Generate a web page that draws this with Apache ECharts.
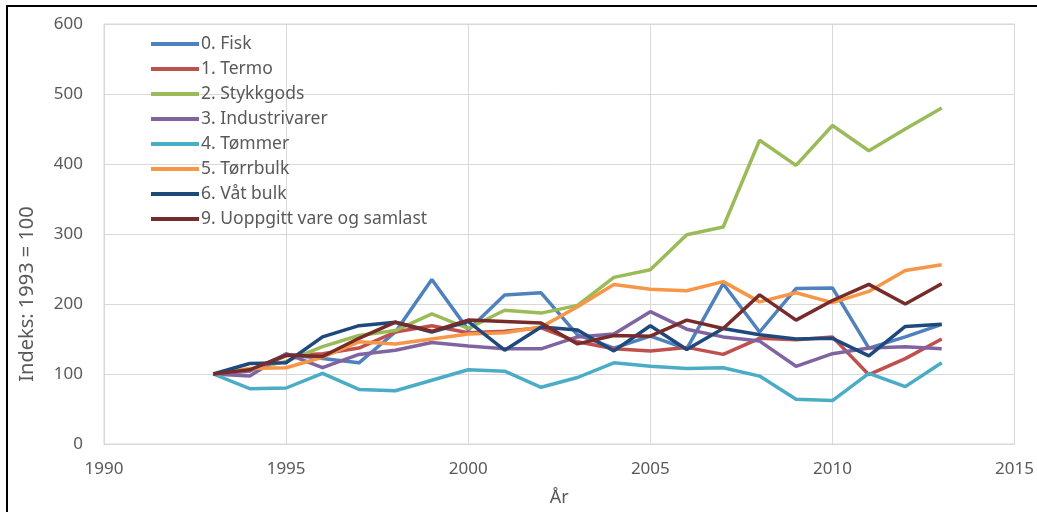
<!DOCTYPE html>
<html>
<head>
<meta charset="utf-8">
<script src="https://cdn.jsdelivr.net/npm/echarts@6/dist/echarts.min.js"></script>
<style>
  html, body { margin: 0; padding: 0; background: #fff; }
  #chart { width: 1037px; height: 512px; }
</style>
</head>
<body>
<div id="chart"></div>
<script>
const years = [1993, 1994, 1995, 1996, 1997, 1998, 1999, 2000, 2001, 2002, 2003,
  2004, 2005, 2006, 2007, 2008, 2009, 2010, 2011, 2012, 2013];

const fisk = [100, 104, 128, 122, 116, 160, 235, 163, 213, 216, 156, 137, 154, 136, 229, 160, 222, 223, 137, 153, 171];
const termo = [100, 105, 126, 129, 137, 160, 169, 159, 161, 166, 146, 136, 133, 138, 128, 151, 149, 153, 99, 122, 150];
const stykkgods = [100, 106, 118, 139, 155, 162, 186, 165, 191, 187, 198, 238, 249, 299, 310, 434, 398, 455, 419, 450, 480];
const industrivarer = [100, 97, 129, 109, 128, 134, 145, 140, 136, 136, 153, 157, 189, 164, 153, 147, 111, 129, 137, 139, 136];
const tommer = [100, 79, 80, 101, 78, 76, 91, 106, 104, 81, 95, 116, 111, 108, 109, 97, 64, 62, 101, 82, 116];
const torrbulk = [100, 108, 109, 124, 146, 143, 150, 157, 159, 167, 196, 228, 221, 219, 232, 203, 216, 202, 218, 248, 256];
const vatBulk = [100, 115, 116, 153, 169, 174, 160, 175, 134, 167, 163, 133, 169, 135, 165, 156, 150, 151, 126, 168, 171];
const uoppgitt = [100, 106, 127, 125, 151, 174, 161, 177, 175, 173, 143, 155, 154, 177, 165, 213, 177, 205, 228, 200, 229];

const names = ["0. Fisk", "1. Termo", "2. Stykkgods", "3. Industrivarer", "4. Tømmer",
  "5. Tørrbulk", "6. Våt bulk", "9. Uoppgitt vare og samlast"];
const colors = ["#4F81BD", "#C0504D", "#9BBB59", "#8064A2", "#4BACC6", "#F79646", "#1F497D", "#772C2A"];
const allData = [fisk, termo, stykkgods, industrivarer, tommer, torrbulk, vatBulk, uoppgitt];

const font = "'Noto Sans', 'Open Sans', sans-serif";
const chart = echarts.init(document.getElementById("chart"));

const option = {
  animation: false,
  color: colors,
  grid: {
    left: 104, right: 20, top: 24, bottom: 68,
    show: true, borderColor: "#d9d9d9", borderWidth: 1
  },
  legend: {
    orient: "vertical",
    left: 146, top: 30,
    itemWidth: 48, itemHeight: 4, itemGap: 7,
    icon: "rect",
    textStyle: { color: "#595959", fontSize: 17.5, fontFamily: font, padding: [0, 0, 0, -3] },
    data: names
  },
  xAxis: {
    type: "value",
    min: 1990, max: 2015, interval: 5,
    name: "År", nameLocation: "middle", nameGap: 45,
    nameTextStyle: { color: "#595959", fontSize: 18, fontFamily: font },
    axisLine: { lineStyle: { color: "#d9d9d9" } },
    axisTick: { show: false },
    splitLine: { show: true, lineStyle: { color: "#d9d9d9" } },
    axisLabel: {
      color: "#595959", fontSize: 17, fontFamily: font, margin: 17,
      formatter: v => String(v)
    }
  },
  yAxis: {
    type: "value",
    min: 0, max: 600, interval: 100,
    axisLine: { show: false },
    axisTick: { show: false },
    splitLine: { lineStyle: { color: "#d9d9d9" } },
    axisLabel: { color: "#595959", fontSize: 17, fontFamily: font, margin: 21 }
  },
  graphic: [
    {
      type: "text",
      x: 27, y: 294,
      rotation: Math.PI / 2,
      style: {
        text: "Indeks: 1993 = 100",
        fill: "#595959",
        font: "20px " + font,
        align: "center",
        verticalAlign: "middle"
      }
    },
    {
      type: "rect",
      shape: { x: 7, y: 6, width: 1100, height: 600 },
      style: { fill: "none", stroke: "#000", lineWidth: 2 }
    }
  ],
  series: names.map((n, i) => ({
    name: n,
    type: "line",
    symbol: "none",
    lineStyle: { width: 3.5, color: colors[i] },
    data: years.map((y, j) => [y, allData[i][j]])
  }))
};

chart.setOption(option);
</script>
</body>
</html>
